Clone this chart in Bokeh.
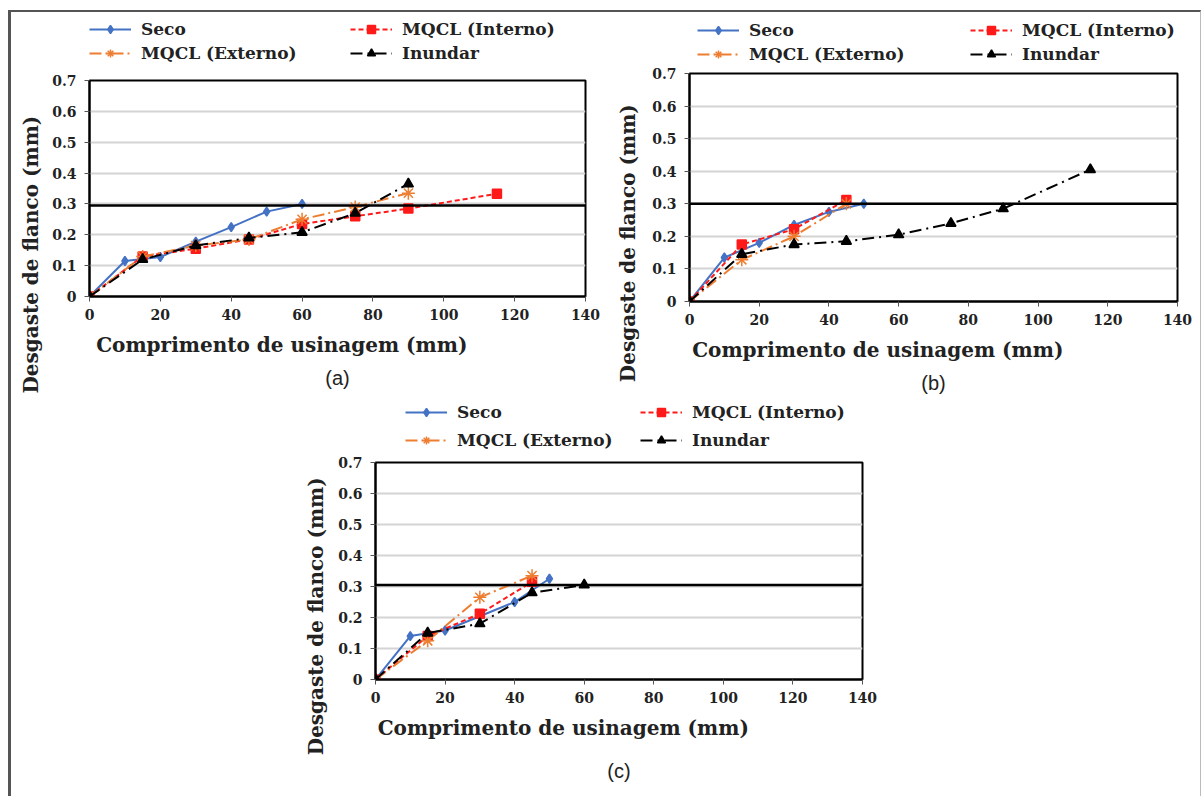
from bokeh.plotting import figure
from bokeh.models import Legend, LegendItem, Span, Title, Spacer, FixedTicker
from bokeh.layouts import row, column
from bokeh.embed import file_html
from bokeh.resources import INLINE

# ---------------- data ----------------
x_ticks = [0, 20, 40, 60, 80, 100, 120, 140]
y_ticks = [0, 0.1, 0.2, 0.3, 0.4, 0.5, 0.6, 0.7]
y_tick_labels = ["0", "0.1", "0.2", "0.3", "0.4", "0.5", "0.6", "0.7"]
series_names = ["Seco", "MQCL (Interno)", "MQCL (Externo)", "Inundar"]
y_title = "Desgaste de flanco (mm)"
x_title = "Comprimento de usinagem (mm)"

# panel (a)
a_seco_x = [0, 10, 20, 30, 40, 50, 60]
a_seco_y = [0, 0.115, 0.128, 0.178, 0.225, 0.275, 0.300]
a_int_x = [0, 15, 30, 45, 60, 75, 90, 115]
a_int_y = [0, 0.130, 0.155, 0.185, 0.235, 0.260, 0.285, 0.333]
a_ext_x = [0, 15, 30, 45, 60, 75, 90]
a_ext_y = [0, 0.130, 0.165, 0.185, 0.250, 0.290, 0.335]
a_inu_x = [0, 15, 30, 45, 60, 75, 90]
a_inu_y = [0, 0.120, 0.165, 0.190, 0.208, 0.270, 0.365]
a_limit = 0.295

# panel (b)
b_seco_x = [0, 10, 20, 30, 40, 50]
b_seco_y = [0, 0.135, 0.180, 0.235, 0.275, 0.300]
b_int_x = [0, 15, 30, 45]
b_int_y = [0, 0.175, 0.222, 0.312]
b_ext_x = [0, 15, 30, 45]
b_ext_y = [0, 0.128, 0.200, 0.300]
b_inu_x = [0, 15, 30, 45, 60, 75, 90, 115]
b_inu_y = [0, 0.145, 0.175, 0.185, 0.205, 0.240, 0.285, 0.405]
b_limit = 0.300

# panel (c)
c_seco_x = [0, 10, 20, 40, 50]
c_seco_y = [0, 0.140, 0.158, 0.250, 0.325]
c_int_x = [0, 15, 30, 45]
c_int_y = [0, 0.140, 0.212, 0.315]
c_ext_x = [0, 15, 30, 45]
c_ext_y = [0, 0.125, 0.265, 0.335]
c_inu_x = [0, 15, 30, 45, 60]
c_inu_y = [0, 0.150, 0.180, 0.280, 0.305]
c_limit = 0.305

SERIF = "DejaVu Serif"
SANS = "Liberation Sans"
TXT = "#222222"
NB = "\u00a0"

styles = [
    dict(color="#4472C4", dash="solid", marker="diamond", size=9, lw=2),
    dict(color="#FF1A1A", dash="5 3", marker="square", size=9, lw=2),
    dict(color="#ED7D31", dash="12 4 2 4", marker="asterisk", size=13, lw=2),
    dict(color="#000000", dash="12 5 2 5", marker="triangle", size=10, lw=2),
]


def draw_series(p, data):
    out = []
    for (xs, ys), st in zip(data, styles):
        r1 = p.line(xs, ys, line_color=st["color"], line_width=st["lw"],
                    line_dash=st["dash"])
        r2 = p.scatter(xs, ys, marker=st["marker"], size=st["size"],
                       fill_color=st["color"], line_color=st["color"],
                       line_width=1.5)
        out.append((r1, r2))
    return out


def make_legend_fig(data, w, h, loc, lw, spacing):
    # a strip that holds only the legend (its series lie outside its range)
    lf = figure(width=w, height=h, x_range=(1000, 1001), y_range=(1000, 1001),
                output_backend="svg", toolbar_location=None,
                x_axis_location=None, y_axis_location=None, min_border=0,
                background_fill_color="white", border_fill_color="white")
    lf.outline_line_color = None
    lf.grid.visible = False
    rs = draw_series(lf, data)
    items = [LegendItem(label=n, renderers=[a, b])
             for n, (a, b) in zip(series_names, rs)]
    leg = Legend(items=items, orientation="horizontal", ncols=2,
                 location=loc, padding=0, margin=0, spacing=spacing,
                 glyph_width=42, glyph_height=20, label_height=20,
                 label_width=lw, label_standoff=10,
                 label_text_font=SERIF, label_text_font_style="bold",
                 label_text_font_size="17px", label_text_color=TXT,
                 border_line_color=None, background_fill_alpha=0)
    lf.add_layout(leg, "center")
    return lf


def make_panel(data, limit, letter, w, h, bl, bt, br, bb, y_pad, x_pad,
               ylab_standoff, letter_standoff):
    p = figure(width=w, height=h, x_range=(0, 140), y_range=(0, 0.7),
               output_backend="svg", toolbar_location=None,
               min_border_left=bl, min_border_top=bt, min_border_right=br,
               min_border_bottom=bb, background_fill_color="white",
               border_fill_color="white")
    p.outline_line_color = "black"
    p.outline_line_width = 2
    p.xgrid.visible = False
    p.ygrid.ticker = FixedTicker(ticks=y_ticks)
    p.ygrid.grid_line_color = "#D4D4D4"
    p.ygrid.grid_line_width = 2

    p.xaxis.ticker = FixedTicker(ticks=x_ticks)
    p.yaxis.ticker = FixedTicker(ticks=y_ticks)
    p.yaxis.major_label_overrides = {t: l for t, l in zip(y_ticks, y_tick_labels)}
    for ax in (p.xaxis, p.yaxis):
        ax.axis_line_color = "black"
        ax.axis_line_width = 2
        ax.major_tick_in = 0
        ax.major_tick_out = 5
        ax.major_tick_line_color = "#555555"
        ax.minor_tick_line_color = None
        ax.major_label_text_font = SERIF
        ax.major_label_text_font_style = "bold"
        ax.major_label_text_font_size = "14px"
        ax.major_label_text_color = TXT
        ax.axis_label_text_font = SERIF
        ax.axis_label_text_font_style = "bold"
        ax.axis_label_text_font_size = "20px"
        ax.axis_label_text_color = TXT
    p.xaxis.major_label_standoff = 7
    p.yaxis.major_label_standoff = 8
    p.xaxis.axis_label = x_title + NB * x_pad
    p.yaxis.axis_label = y_title + NB * y_pad
    p.xaxis.axis_label_standoff = 10
    p.yaxis.axis_label_standoff = ylab_standoff

    p.add_layout(Span(location=limit, dimension="width", line_color="black",
                      line_width=2.5))
    draw_series(p, data)

    p.add_layout(Title(text="(" + letter + ")", align="center", text_font=SANS,
                       text_font_style="normal", text_font_size="20px",
                       text_color=TXT, standoff=letter_standoff), "below")
    return p


data_a = [(a_seco_x, a_seco_y), (a_int_x, a_int_y), (a_ext_x, a_ext_y),
          (a_inu_x, a_inu_y)]
data_b = [(b_seco_x, b_seco_y), (b_int_x, b_int_y), (b_ext_x, b_ext_y),
          (b_inu_x, b_inu_y)]
data_c = [(c_seco_x, c_seco_y), (c_int_x, c_int_y), (c_ext_x, c_ext_y),
          (c_inu_x, c_inu_y)]

la = make_legend_fig(data_a, w=589, h=58, loc=(0, 7), lw=205, spacing=4)
pa = make_panel(data_a, a_limit, "a", w=589, h=330, bl=78, bt=10, br=15,
                bb=104, y_pad=19, x_pad=16, ylab_standoff=6, letter_standoff=10)

lb = make_legend_fig(data_b, w=600, h=52, loc=(8, 0), lw=217, spacing=4)
pb = make_panel(data_b, b_limit, "b", w=600, h=336, bl=89, bt=9, br=23,
                bb=99, y_pad=16, x_pad=16, ylab_standoff=9, letter_standoff=10)

lc = make_legend_fig(data_c, w=592, h=52, loc=(30, 2), lw=175, spacing=8)
pc = make_panel(data_c, c_limit, "c", w=592, h=344, bl=85, bt=10, br=20,
                bb=113, y_pad=13, x_pad=16, ylab_standoff=7, letter_standoff=30)

root = column(row(column(la, pa), column(lb, pb)),
              row(Spacer(width=279, height=10), column(lc, pc)),
              margin=(10, 0, 0, 8),
              styles={"border-top": "2px solid #555555",
                      "border-left": "3px solid #555555",
                      "border-right": "1px solid #BBBBBB"})

open("out.html", "w").write(file_html(root, INLINE))
